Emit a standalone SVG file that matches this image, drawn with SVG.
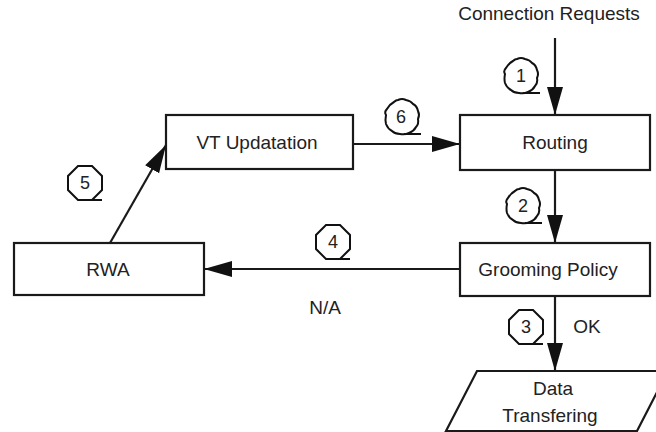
<svg xmlns="http://www.w3.org/2000/svg" xmlns:xlink="http://www.w3.org/1999/xlink" width="656" height="432" viewBox="0 0 656 432">
<style>
.box{fill:#fff;stroke:#1a1a1a;stroke-width:2.2}
.lbl{font-family:"Liberation Sans",Arial,sans-serif;font-size:19px;fill:#222;text-anchor:middle}
.num{font-family:"Liberation Sans",Arial,sans-serif;font-size:18px;fill:#222;text-anchor:middle}
.con{stroke:#1a1a1a;stroke-width:2.2;fill:none;marker-end:url(#arr)}
.badge{fill:#fff;stroke:#111;stroke-width:2}
</style>
<defs>
<marker id="arr" markerUnits="userSpaceOnUse" markerWidth="28" markerHeight="18" refX="28" refY="9" orient="auto">
<path d="M0,1 L28,9 L0,17 z" fill="#111"/>
</marker>
<g id="oct">
<polygon class="badge" points="-7,-17 7,-17 17,-7 17,7 7,17 -7,17 -17,7 -17,-7"/>
<line x1="0" y1="17" x2="17" y2="17" stroke="#111" stroke-width="2"/>
</g>
<g id="wavy">
<path class="badge" d="M-4,-17 Q0,-19 4,-17 Q9,-16 11,-13 Q15,-11 16,-6 Q18,-2 16,2 Q17,7 14,10 Q12,14 7,16 Q3,18 -2,17 Q-7,17 -10,14 Q-14,12 -16,7 Q-17,3 -16,-2 Q-18,-5 -15,-8 Q-12,-13 -8,-15 Q-6,-17 -4,-17 z"/>
<line x1="2" y1="17" x2="19" y2="17" stroke="#111" stroke-width="2"/>
</g>
</defs>

<g id="connectors">
<path class="con" d="M555,38 L555,115"/>
<path class="con" d="M555,170 L555,243"/>
<path class="con" d="M555,296 L555,371"/>
<path class="con" d="M460,269 L204,269"/>
<path class="con" d="M110,243 L166,145"/>
<path class="con" d="M353,144 L460,144"/>
</g>

<g id="node-routing">
<rect class="box" x="460" y="115" width="190" height="55"/>
<text class="lbl" x="555" y="149">Routing</text>
</g>
<g id="node-vt">
<rect class="box" x="166" y="115" width="187" height="54"/>
<text class="lbl" x="257" y="149">VT Updatation</text>
</g>
<g id="node-rwa">
<rect class="box" x="14" y="243" width="190" height="52"/>
<text class="lbl" x="108" y="276">RWA</text>
</g>
<g id="node-grooming">
<rect class="box" x="460" y="243" width="190" height="53"/>
<text class="lbl" x="548" y="276">Grooming Policy</text>
</g>
<g id="node-data">
<polygon class="box" points="477,371 668,371 637,431 446,431"/>
<text class="lbl" x="553" y="395">Data</text>
<text class="lbl" x="550" y="422">Transfering</text>
</g>

<g id="labels">
<text class="lbl" x="549" y="20">Connection Requests</text>
<text class="lbl" x="325" y="314">N/A</text>
<text class="lbl" x="587" y="333">OK</text>
</g>

<g id="badge-1"><use xlink:href="#wavy" x="521" y="76"/><text class="num" x="521" y="82">1</text></g>
<g id="badge-2"><use xlink:href="#wavy" x="523" y="206"/><text class="num" x="523" y="212">2</text></g>
<g id="badge-3"><use xlink:href="#oct" x="526" y="327"/><text class="num" x="526" y="333">3</text></g>
<g id="badge-4"><use xlink:href="#oct" x="333" y="242"/><text class="num" x="333" y="248">4</text></g>
<g id="badge-5"><use xlink:href="#oct" x="85" y="183"/><text class="num" x="85" y="189">5</text></g>
<g id="badge-6"><use xlink:href="#wavy" x="402" y="117"/><text class="num" x="401" y="123">6</text></g>
</svg>
